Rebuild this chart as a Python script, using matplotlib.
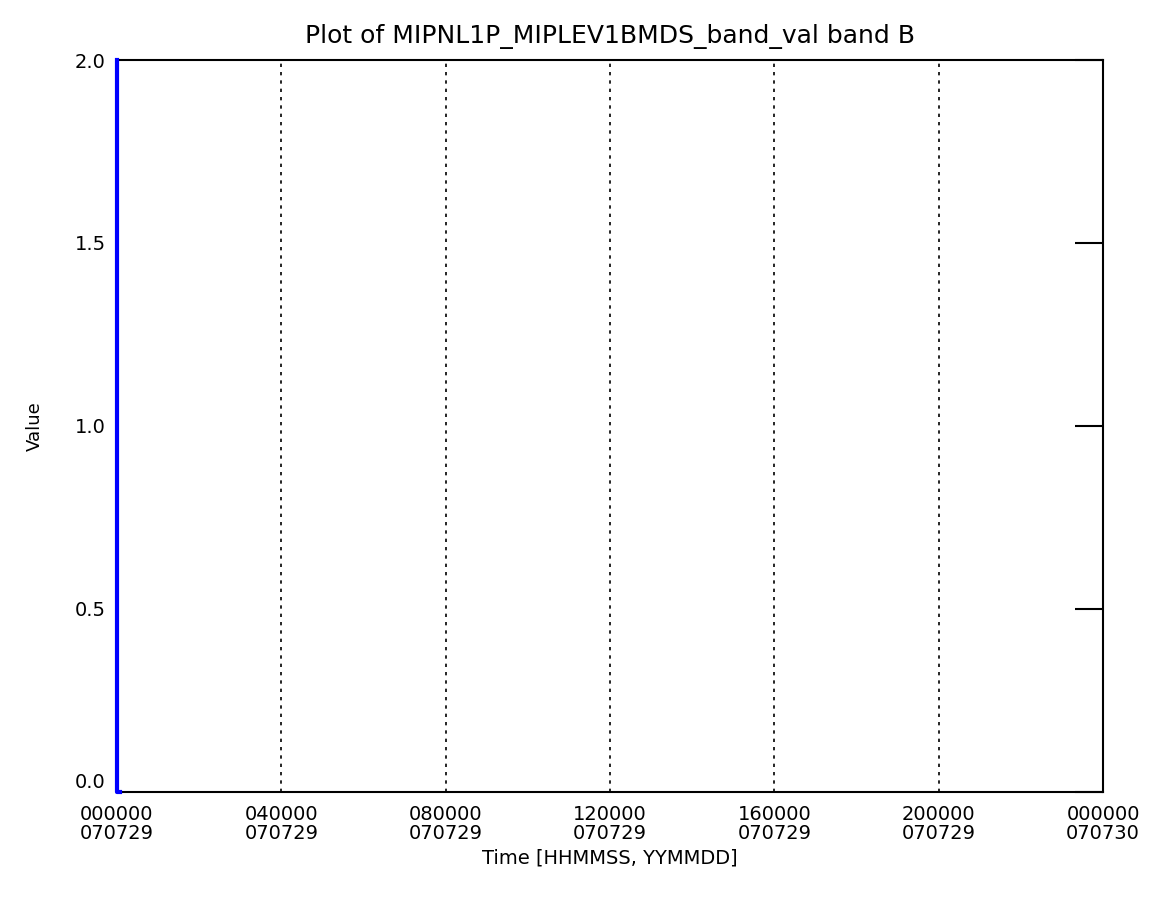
import matplotlib
matplotlib.use("Agg")
import matplotlib.pyplot as plt

# data: seconds since 000000 on 070729, band value
times = [0, 0, 300]
values = [2.0, 0.0, 0.0]

xtick_secs = [0, 14400, 28800, 43200, 57600, 72000, 86400]
xtick_labels = ["000000\n070729", "040000\n070729", "080000\n070729",
                "120000\n070729", "160000\n070729", "200000\n070729",
                "000000\n070730"]
ytick_vals = [0.0, 0.5, 1.0, 1.5, 2.0]

fig = plt.figure(figsize=(11.6, 9.07), dpi=100, facecolor="white")
ax = fig.add_axes([117 / 1160, 1 - 792 / 907, (1103 - 117) / 1160, (792 - 60) / 907])

ax.plot(times, values, color="blue", lw=3, zorder=3, clip_on=False)

ax.set_xlim(0, 86400)
ax.set_ylim(0, 2.0)

# dotted vertical grid at inner ticks
for x in xtick_secs[1:-1]:
    ax.axvline(x, color="black", ls=(0, (2, 3)), lw=1.2, zorder=1)

ax.set_xticks(xtick_secs)
ax.set_xticklabels(xtick_labels, fontsize=14, linespacing=1.05)
ax.tick_params(axis="x", length=0, pad=9)

ax.set_yticks(ytick_vals)
ax.set_yticklabels([f"{v:.1f}" for v in ytick_vals], fontsize=14)
ax.tick_params(axis="y", left=False, right=True, direction="in", length=20,
               width=1.5, pad=8, labelleft=True)
# lift the bottom label a little so it clears the first time label
ax.get_yticklabels()[0].set_verticalalignment("bottom")

for s in ax.spines.values():
    s.set_linewidth(1.5)

ax.set_xlabel("Time [HHMMSS, YYMMDD]", fontsize=14, labelpad=4)
ax.set_ylabel("Value", fontsize=13)
ax.yaxis.set_label_coords(-0.074, 0.5)
ax.set_title("Plot of MIPNL1P_MIPLEV1BMDS_band_val band B", fontsize=18, pad=12)

fig.savefig("out.png", dpi=100, facecolor="white")
